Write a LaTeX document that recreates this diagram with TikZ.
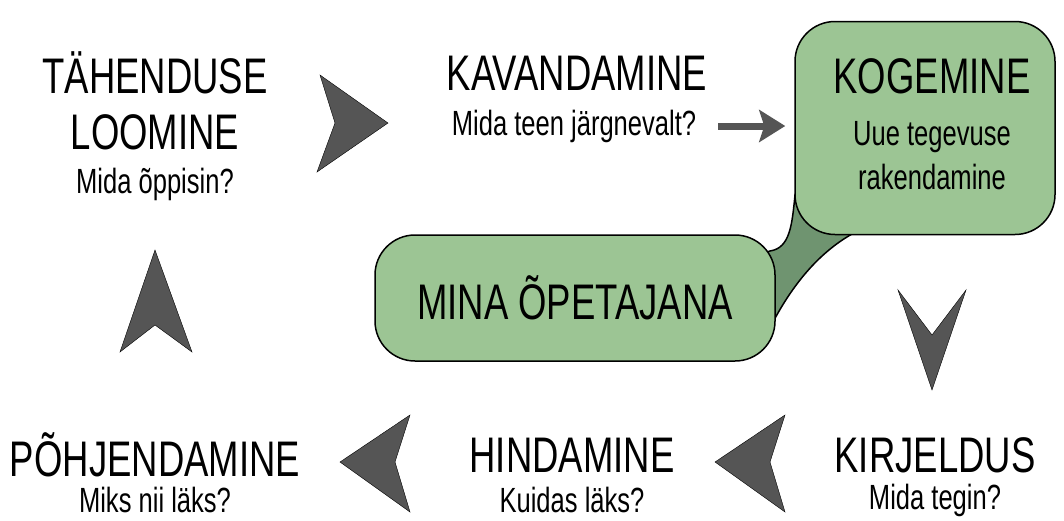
\documentclass[tikz,border=0pt]{standalone}
\usepackage{fontspec}
\setmainfont[FakeStretch=0.73]{Liberation Sans}
\usepackage{tikz}
\usetikzlibrary{arrows.meta}
\newcommand{\suur}{\fontsize{50}{56}\selectfont}
\newcommand{\vaike}{\fontsize{35}{44}\selectfont}
\definecolor{roheline}{HTML}{9CC594}
\definecolor{tumm}{HTML}{6F9470}
\definecolor{hall}{HTML}{555555}
\tikzstyle{pealkiri}=[inner sep=0pt,font=\suur]
\tikzstyle{kysimus}=[inner sep=0pt,font=\vaike]
\tikzstyle{kast}=[draw,line width=1.5pt,fill=roheline,rounded corners=40pt,align=center]
\tikzstyle{nool}=[fill=hall]

\begin{document}
\begin{tikzpicture}[x=1pt,y=-1pt]
\useasboundingbox (0,0) rectangle (1064,520);

% tail between the two boxes
\draw[fill=tumm,line width=1.5pt] (760,254) -- (770,251) .. controls (790,248) and (792,225) .. (795,195)
  -- (852,234) .. controls (815,255) and (790,290) .. (773,322) -- (760,322) -- cycle;

\node[kast,minimum width=260pt,minimum height=213pt] (kog) at (925,128) {};
\node[pealkiri] (kogt) at (932,76) {KOGEMINE};
\node[kysimus,align=center] (kogk) at (932,156) {Uue tegevuse\\rakendamine};

\node[kast,minimum width=400pt,minimum height=126pt,font=\suur] (mina) at (575,298) {MINA ÕPETAJANA};

% stages
\node[pealkiri] (tah1) at (155,73) {TÄHENDUSE};
\node[pealkiri] (tah2) at (155,132) {LOOMINE};
\node[kysimus] (tahk) at (155,184) {Mida õppisin?};

\node[pealkiri] (kav) at (577,73) {KAVANDAMINE};
\node[kysimus] (kavk) at (574,126) {Mida teen järgnevalt?};

\node[pealkiri] (kir) at (935,455) {KIRJELDUS};
\node[kysimus] (kirk) at (935,500) {Mida tegin?};

\node[pealkiri] (hin) at (572,455) {HINDAMINE};
\node[kysimus] (hink) at (572,500) {Kuidas läks?};

\node[pealkiri] (poh) at (155,455) {PÕHJENDAMINE};
\node[kysimus] (pohk) at (155,500) {Miks nii läks?};

\draw[hall,line width=7pt,-{Stealth[length=26pt,width=32pt,inset=5pt]},shorten >=9pt]
  (kavk.east) ++(22,0) -- (kog.west |- kavk.east);

% arrowheads
\draw[nool] (388,123) -- (320,75) -- (335,123) -- (317,172) -- cycle;
\draw[nool] (932,390) -- (898,290) -- (932,335) -- (966,290) -- cycle;
\foreach \x in {340,715}
  \draw[nool] (\x,462) -- (\x+70,415) -- (\x+55,462) -- (\x+70,512) -- cycle;
\draw[nool] (155,250) -- (120,352) -- (155,325) -- (192,352) -- cycle;

\end{tikzpicture}
\end{document}
